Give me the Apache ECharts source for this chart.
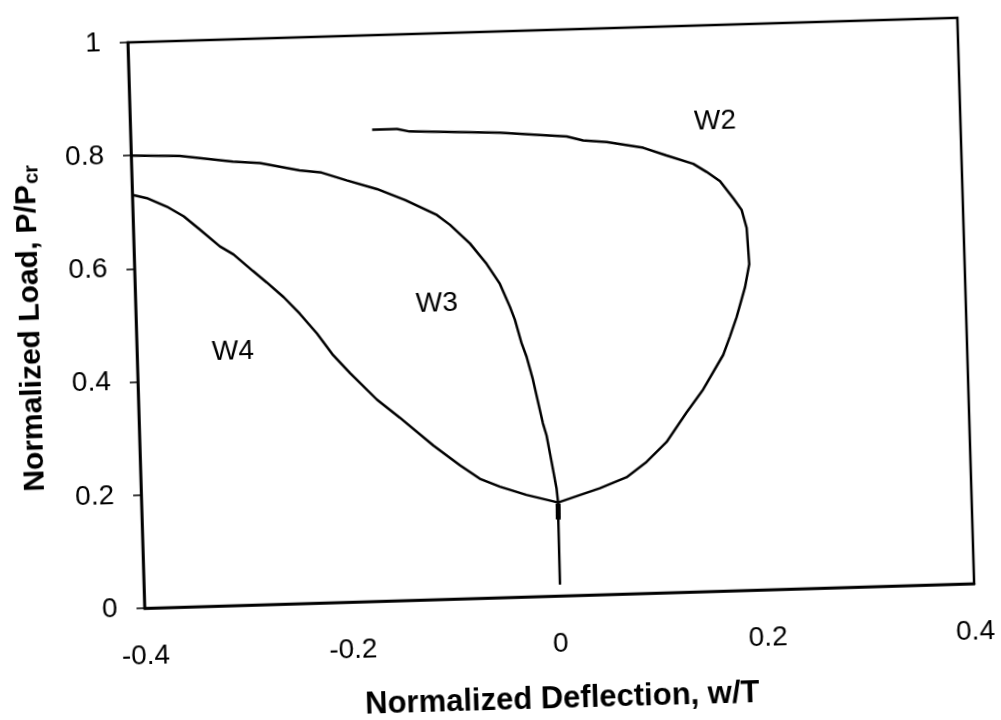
<!DOCTYPE html>
<html>
<head>
<meta charset="utf-8">
<script src="https://cdn.jsdelivr.net/npm/echarts@6/dist/echarts.min.js"></script>
<style>
  html, body { margin: 0; padding: 0; background: #fff; }
  #chart { width: 1001px; height: 720px; transform-origin: 551px 316px; transform: rotate(-1.7deg); }
</style>
</head>
<body>
<div id="chart"></div>
<script>
// ---- data ----
const xTicks = [-0.4, -0.2, 0, 0.2, 0.4];
const yTicks = [0, 0.2, 0.4, 0.6, 0.8, 1];

const stemX = [0.001, 0.0012, 0.0015];
const stemY = [0.02, 0.13, 0.165];

const blobX = [0.0012, 0.0015];
const blobY = [0.135, 0.163];

const w2X = [0.0015, 0.0421, 0.0682, 0.0879, 0.1077, 0.1278, 0.1445, 0.1648, 0.1718, 0.1788, 0.1877, 0.1925, 0.191, 0.1867, 0.179, 0.1667, 0.154, 0.1414, 0.116, 0.0937, 0.0586, 0.036, 0.0202, -0.0055, -0.044, -0.131, -0.143, -0.167];
const w2Y = [0.165, 0.188, 0.206, 0.232, 0.266, 0.317, 0.357, 0.417, 0.449, 0.483, 0.535, 0.576, 0.640, 0.672, 0.693, 0.724, 0.741, 0.756, 0.772, 0.787, 0.799, 0.803, 0.811, 0.815, 0.821, 0.828, 0.833, 0.833];

const w3X = [0.0015, 0.0004, -0.0036, -0.0077, -0.0109, -0.0193, -0.0247, -0.0291, -0.0349, -0.0393, -0.0483, -0.0605, -0.076, -0.0947, -0.107, -0.137, -0.164, -0.193, -0.217, -0.238, -0.276, -0.302, -0.353, -0.3994];
const w3Y = [0.165, 0.190, 0.237, 0.284, 0.306, 0.384, 0.424, 0.448, 0.490, 0.513, 0.554, 0.590, 0.627, 0.661, 0.679, 0.707, 0.728, 0.745, 0.760, 0.765, 0.780, 0.784, 0.797, 0.800];

const w4X = [0.0015, -0.0287, -0.054, -0.0732, -0.092, -0.117, -0.1485, -0.170, -0.195, -0.211, -0.226, -0.242, -0.257, -0.273, -0.286, -0.304, -0.317, -0.336, -0.351, -0.367, -0.386, -0.399];
const w4Y = [0.165, 0.180, 0.196, 0.211, 0.236, 0.272, 0.323, 0.356, 0.404, 0.437, 0.476, 0.512, 0.542, 0.569, 0.590, 0.620, 0.635, 0.666, 0.690, 0.708, 0.724, 0.730];

const curveNames = ['W2', 'W3', 'W4'];
const labelX = [0.1636, -0.1096, -0.3075];
const labelY = [0.830, 0.522, 0.448];

const xTitle = 'Normalized Deflection, w/T';
const yTitleMain = 'Normalized Load, P/P';
const yTitleSub = 'cr';

// ---- build ----
const FONT = '"Liberation Sans", Arial, Helvetica, sans-serif';
function pairs(xs, ys) { return xs.map((x, i) => [x, ys[i]]); }
function lineSeries(name, xs, ys, w) {
  return {
    name: name, type: 'line', data: pairs(xs, ys), showSymbol: false, symbol: 'none',
    lineStyle: { color: '#000', width: w || 2.5 }, smooth: false, silent: true, z: 3
  };
}

const chart = echarts.init(document.getElementById('chart'), null, { renderer: 'canvas' });
chart.setOption({
  backgroundColor: '#fff',
  animation: false,
  grid: { left: 136, top: 30, width: 830, height: 572, show: true, borderColor: '#000', borderWidth: 2.5, backgroundColor: 'transparent' },
  xAxis: {
    type: 'value', min: xTicks[0], max: xTicks[xTicks.length - 1], interval: 0.2,
    axisLine: { show: true, onZero: false, lineStyle: { color: '#000', width: 2.5 } },
    axisTick: { show: false },
    splitLine: { show: false },
    axisLabel: { color: '#000', fontSize: 28, fontFamily: FONT, margin: 34 },
    name: xTitle, nameLocation: 'middle', nameGap: 88,
    nameTextStyle: { color: '#000', fontSize: 31, fontWeight: 'bold', fontFamily: FONT }
  },
  yAxis: {
    type: 'value', min: yTicks[0], max: yTicks[yTicks.length - 1], interval: 0.2,
    axisLine: { show: true, onZero: false, lineStyle: { color: '#000', width: 2.5 } },
    axisTick: { show: true, inside: false, length: 8, lineStyle: { color: '#000', width: 1.5 } },
    splitLine: { show: false },
    axisLabel: { color: '#000', fontSize: 28, fontFamily: FONT, margin: 27 },
    name: '{a|' + yTitleMain + '}{b|' + yTitleSub + '}', nameLocation: 'middle', nameGap: 90, nameRotate: 90,
    nameTextStyle: {
      color: '#000', fontFamily: FONT,
      rich: {
        a: { fontSize: 30, fontWeight: 'bold', fontFamily: FONT, color: '#000', lineHeight: 30, verticalAlign: 'top' },
        b: { fontSize: 20, fontWeight: 'bold', fontFamily: FONT, color: '#000', lineHeight: 20, padding: [12, 0, 0, 1], verticalAlign: 'bottom' }
      }
    }
  },
  series: [
    lineSeries('stem', stemX, stemY, 2.5),
    lineSeries('blob', blobX, blobY, 5),
    lineSeries(curveNames[0], w2X, w2Y),
    lineSeries(curveNames[1], w3X, w3Y),
    lineSeries(curveNames[2], w4X, w4Y),
    {
      type: 'scatter', silent: true, symbolSize: 1, itemStyle: { color: 'rgba(0,0,0,0)' },
      data: curveNames.map((n, i) => ({ name: n, value: [labelX[i], labelY[i]] })),
      label: { show: true, position: 'inside', formatter: p => p.name, color: '#000', fontSize: 28, fontFamily: FONT, opacity: 1 },
      z: 4
    }
  ]
});
</script>
</body>
</html>
